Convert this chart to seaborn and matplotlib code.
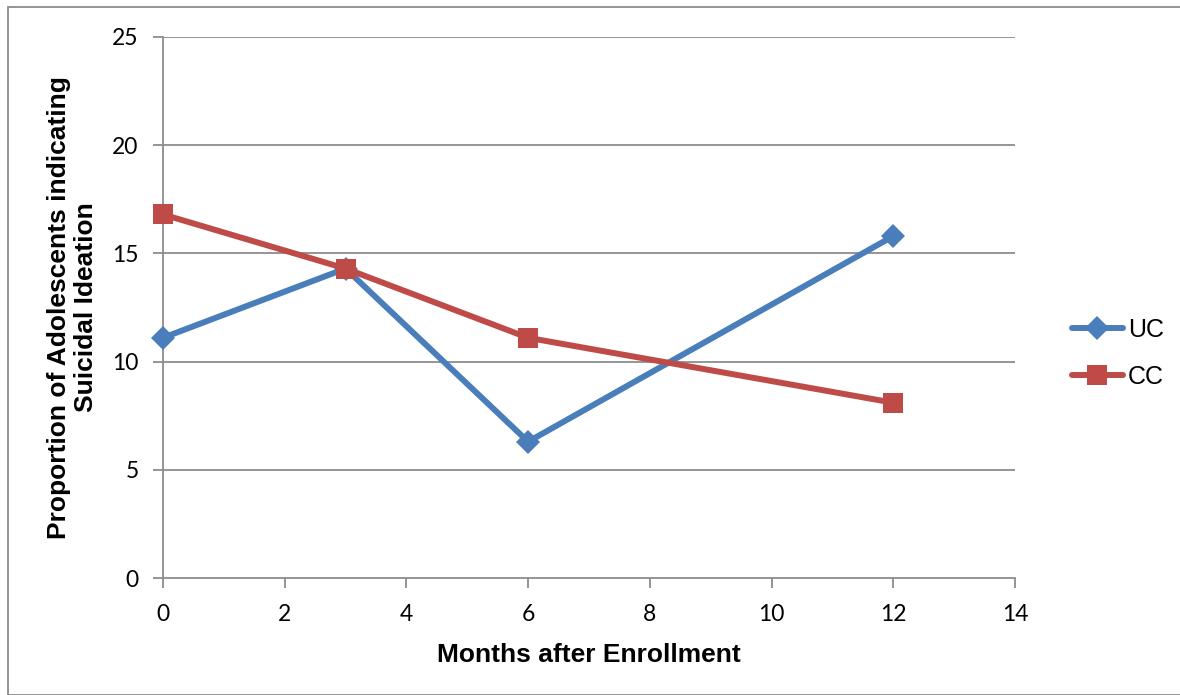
import matplotlib
matplotlib.use("Agg")
import matplotlib.pyplot as plt
import seaborn as sns
import pandas as pd

months = [0, 3, 6, 12]
uc_values = [11.1, 14.3, 6.3, 15.8]
cc_values = [16.8, 14.3, 11.1, 8.1]
series_names = ["UC", "CC"]
x_ticks = [0, 2, 4, 6, 8, 10, 12, 14]
y_ticks = [0, 5, 10, 15, 20, 25]

df = pd.DataFrame({
    "month": months * 2,
    "value": uc_values + cc_values,
    "group": [series_names[0]] * len(months) + [series_names[1]] * len(months),
})

sns.set_theme(style="white")
plt.rcParams["font.family"] = ["Lato", "DejaVu Sans"]
plt.rcParams["text.color"] = "black"
plt.rcParams["axes.labelcolor"] = "black"

fig = plt.figure(figsize=(11.8, 6.95), dpi=100)
ax = fig.add_axes([0.1381, 0.1683, 0.8602 - 0.1381, 0.9468 - 0.1683])

palette = {"UC": "#4A7EBB", "CC": "#BE4B48"}
markers = {"UC": "D", "CC": "s"}
sizes = {"UC": 12, "CC": 14}

for name in series_names:
    sub = df[df["group"] == name]
    sns.lineplot(data=sub, x="month", y="value", ax=ax, color=palette[name],
                 marker=markers[name], markersize=sizes[name], linewidth=4.3,
                 markeredgewidth=0, label=name, clip_on=False, zorder=3)

grid_c = "#8C8C8C"
ax.set_xlim(0, 14)
ax.set_ylim(0, 25)
ax.set_xticks(x_ticks)
ax.set_yticks(y_ticks)
for y in y_ticks[1:]:
    ax.axhline(y, color=grid_c, linewidth=1.3, zorder=1)

for s in ["top", "right"]:
    ax.spines[s].set_visible(False)
for s in ["left", "bottom"]:
    ax.spines[s].set_color(grid_c)
    ax.spines[s].set_linewidth(1.3)

ax.tick_params(axis="both", which="major", direction="out", length=7,
               width=1.3, color=grid_c, labelsize=16.5, labelcolor="black",
               left=True, bottom=True)
ax.tick_params(axis="x", pad=12)
ax.tick_params(axis="y", pad=10.5)

ax.set_xlabel("Months after Enrollment", fontsize=19, fontweight="bold", color="black",
              family=["Liberation Sans", "DejaVu Sans"], labelpad=13)
ax.set_ylabel("Proportion of Adolescents indicating\nSuicidal Ideation", fontsize=19,
              fontweight="bold", color="black", family=["Liberation Sans", "DejaVu Sans"],
              labelpad=10, linespacing=1.15)

leg = ax.legend(loc="center left", bbox_to_anchor=(1.04, 0.415), frameon=False,
                prop={"family": ["Liberation Sans", "DejaVu Sans"], "size": 18},
                handlelength=2.05, handletextpad=0.2, labelspacing=0.9)
for t in leg.get_texts():
    t.set_color("black")

fig.patches.append(plt.Rectangle((8 / 1180, 0), 2.0, 1 - 7 / 695, transform=fig.transFigure,
                                 fill=False, edgecolor="#8C8C8C", linewidth=1.3))

fig.savefig("out.png", dpi=100, facecolor="white")
